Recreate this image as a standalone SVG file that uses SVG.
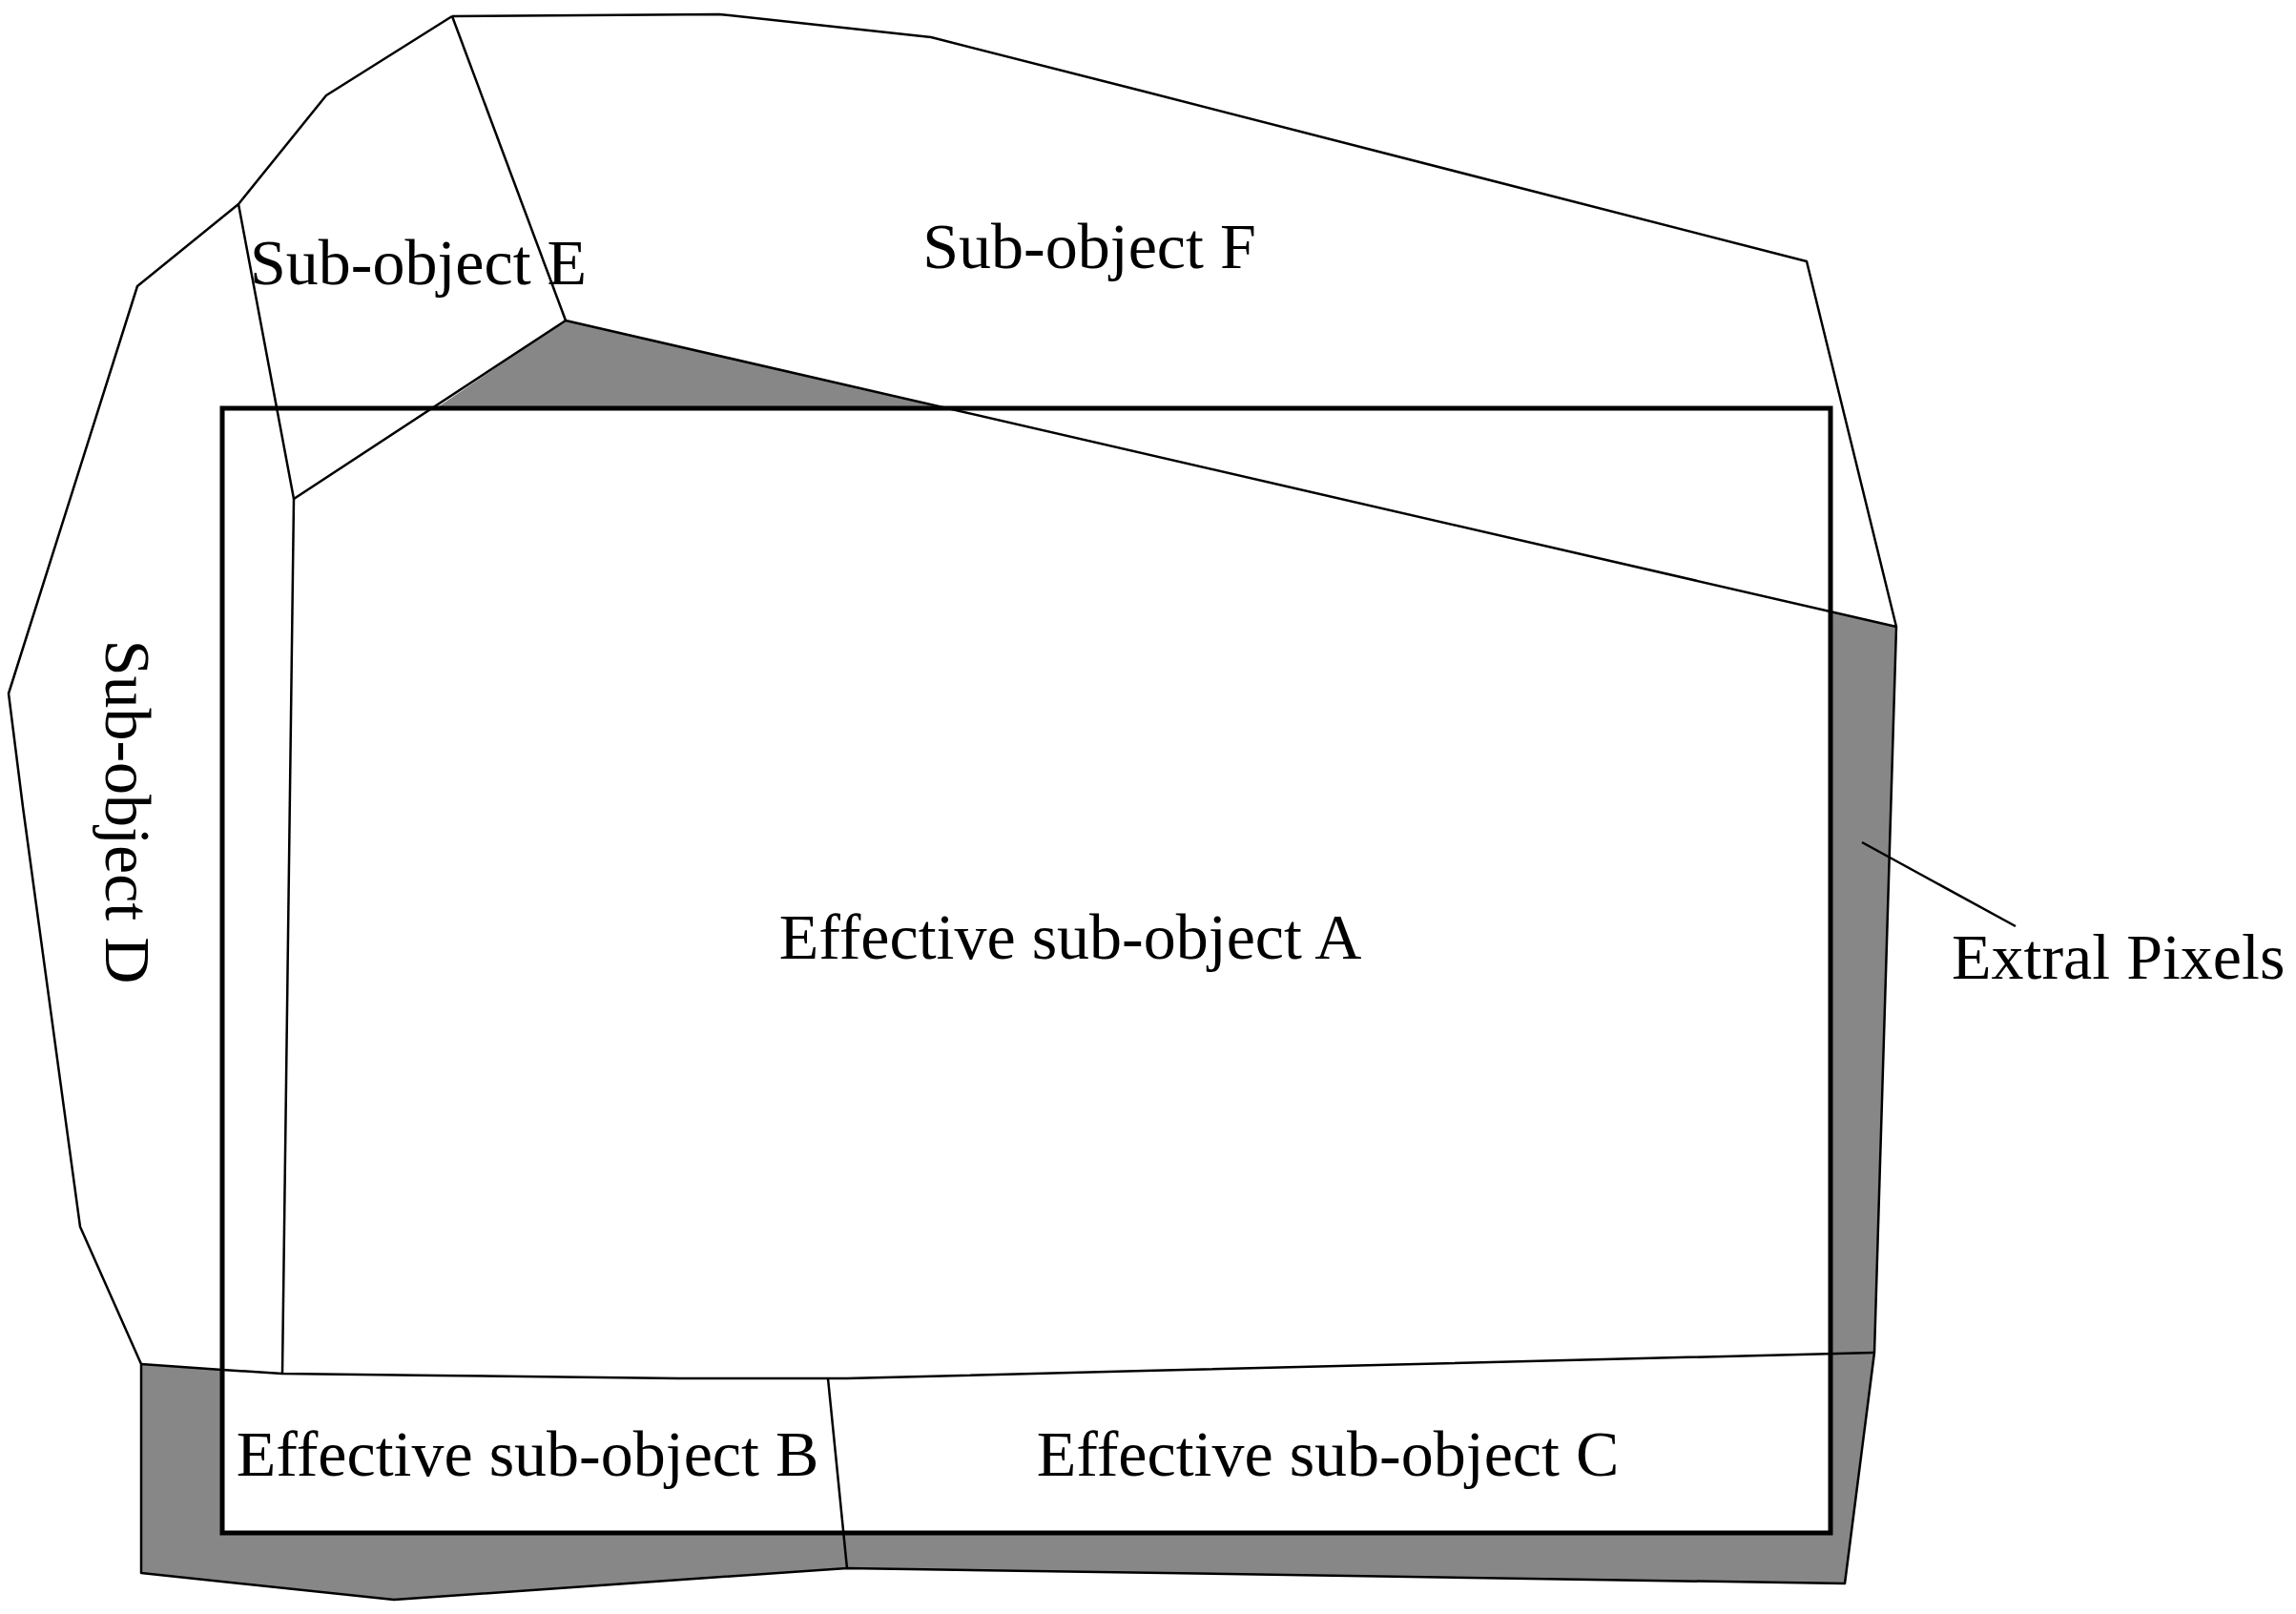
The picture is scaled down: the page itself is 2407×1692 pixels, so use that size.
<svg xmlns="http://www.w3.org/2000/svg" width="2407" height="1692" viewBox="0 0 2407 1692">
<style>
.ln{fill:none;stroke:#000;stroke-width:2.5;stroke-linejoin:round}
.gr{fill:#878787;stroke:none}
.t{font-family:"Liberation Serif","Times New Roman",serif;font-size:68px;fill:#000}
</style>
<rect width="2407" height="1692" fill="#fff"/>
<g id="extra-pixels-regions">
<polygon class="gr" points="457,428 593,336 990,428"/>
<polygon class="gr" points="1919,641 1988,657 1965,1418 1934,1660 888,1644 413,1677 148,1649 148,1430 233,1436 233,1607 1919,1607"/>
</g>
<g id="connectors">
<polyline class="ln" points="474,17 754,15 976,39 1200,96 1894,274 1988,657 1965,1418 1934,1660 888,1644 413,1677 148,1649 148,1430 84,1286 24,846 9,727 144,300 250,214 342,100 474,17"/>
<line class="ln" x1="474" y1="17" x2="593" y2="336"/>
<polyline class="ln" points="250,214 308,523 593,336"/>
<line class="ln" x1="308" y1="523" x2="296" y2="1440"/>
<line class="ln" x1="593" y1="336" x2="1988" y2="657"/>
<polyline class="ln" points="148,1430 233,1436 296,1440 459,1442 711,1445 888,1445 1200,1437 1965,1418"/>
<line class="ln" x1="868" y1="1445" x2="888" y2="1644"/>
<line class="ln" x1="1952" y1="883" x2="2113" y2="971"/>
</g>
<g id="frame"><rect x="233" y="428" width="1686" height="1179" fill="none" stroke="#000" stroke-width="5"/></g>
<g id="node-E"><text class="t" x="262" y="298">Sub-object E</text></g>
<g id="node-F"><text class="t" x="1142" y="281" text-anchor="middle">Sub-object F</text></g>
<g id="node-D"><text class="t" text-anchor="middle" transform="translate(111,851) rotate(90)">Sub-object D</text></g>
<g id="node-A"><text class="t" x="1122" y="1005" text-anchor="middle">Effective sub-object A</text></g>
<g id="node-B"><text class="t" x="553" y="1547" text-anchor="middle">Effective sub-object B</text></g>
<g id="node-C"><text class="t" x="1392" y="1547" text-anchor="middle">Effective sub-object C</text></g>
<g id="label-extra"><text class="t" x="2046" y="1026">Extral Pixels</text></g>
</svg>
